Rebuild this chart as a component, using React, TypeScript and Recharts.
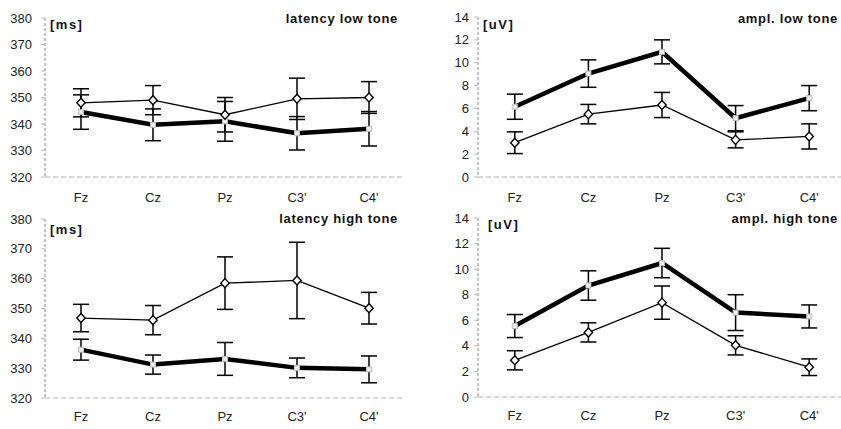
import { ErrorBar, Line, LineChart, XAxis, YAxis } from "recharts";

const sites = ["Fz", "Cz", "Pz", "C3'", "C4'"];

const latencyTicks = [320, 330, 340, 350, 360, 370, 380];
const amplTicks = [0, 2, 4, 6, 8, 10, 12, 14];

// latency low tone
const latLowThin = [348, 349, 343.5, 349.5, 350];
const latLowThinErr = [5.3, 5.5, 6.5, 7.8, 6];
const latLowThick = [344.5, 339.7, 341, 336.5, 338.2];
const latLowThickErr = [6.5, 6, 7.5, 6.3, 6.5];

// ampl. low tone
const ampLowThin = [3.0, 5.5, 6.3, 3.25, 3.55];
const ampLowThinErr = [0.95, 0.85, 1.1, 0.7, 1.1];
const ampLowThick = [6.15, 9.05, 10.95, 5.15, 6.9];
const ampLowThickErr = [1.1, 1.2, 1.05, 1.1, 1.1];

// latency high tone
const latHighThin = [346.8, 346.1, 358.5, 359.4, 350.1];
const latHighThinErr = [4.6, 4.9, 8.8, 12.8, 5.3];
const latHighThick = [336.2, 331.2, 333.1, 330.1, 329.6];
const latHighThickErr = [3.5, 3.2, 5.5, 3.3, 4.5];

// ampl. high tone
const ampHighThin = [2.87, 5.05, 7.38, 4.04, 2.33];
const ampHighThinErr = [0.75, 0.75, 1.3, 0.75, 0.65];
const ampHighThick = [5.55, 8.72, 10.48, 6.6, 6.3];
const ampHighThickErr = [0.9, 1.15, 1.15, 1.4, 0.9];

const font = "'Liberation Sans', Arial, sans-serif";

function rows(thin: number[], thinErr: number[], thick: number[], thickErr: number[]) {
  return sites.map((site, i) => ({
    site,
    thin: thin[i],
    thinErr: thinErr[i],
    thick: thick[i],
    thickErr: thickErr[i],
  }));
}

const renderDiamond = (props: any) => {
  const { cx, cy, index } = props;
  if (cx == null || cy == null) return <g key={`d-${index}`} />;
  return (
    <path
      key={`d-${index}`}
      d={`M${cx},${cy - 4.5}L${cx + 4.2},${cy}L${cx},${cy + 4.5}L${cx - 4.2},${cy}Z`}
      fill="#fff"
      stroke="#000"
      strokeWidth={1.4}
    />
  );
};

const renderSquare = (props: any) => {
  const { cx, cy, index } = props;
  if (cx == null || cy == null) return <g key={`s-${index}`} />;
  return <rect key={`s-${index}`} x={cx - 2.5} y={cy - 2.5} width={5} height={5} fill="#eee" stroke="#bbb" strokeWidth={1} />;
};

type PanelProps = {
  left: number;
  top: number;
  width: number;
  height: number;
  marginTop: number;
  marginRight: number;
  yAxisWidth: number;
  xAxisHeight: number;
  xOffset: number;
  yOffset: number;
  pad: number;
  domain: [number, number];
  ticks: number[];
  data: ReturnType<typeof rows>;
};

function Panel(p: PanelProps) {
  return (
    <div style={{ position: "absolute", left: p.left, top: p.top }}>
      <LineChart
        width={p.width}
        height={p.height}
        data={p.data}
        margin={{ top: p.marginTop, right: p.marginRight, left: 0, bottom: 0 }}
      >
        <XAxis
          dataKey="site"
          height={p.xAxisHeight}
          padding={{ left: p.pad, right: p.pad }}
          tickLine={false}
          tickSize={6}
          tickMargin={p.xOffset - 6}
          axisLine={{ stroke: "#b0b0b0", strokeDasharray: "5 3" }}
          tick={{ fill: "#222", fontSize: 13, fontFamily: font }}
        />
        <YAxis
          width={p.yAxisWidth}
          domain={p.domain}
          ticks={p.ticks}
          interval={0}
          allowDataOverflow
          tickSize={4}
          tickMargin={p.yOffset - 4}
          tickLine={{ stroke: "#bbb" }}
          axisLine={{ stroke: "#888", strokeDasharray: "3 2" }}
          tick={{ fill: "#222", fontSize: 13, fontFamily: font }}
        />
        <Line
          dataKey="thick"
          stroke="#000"
          strokeWidth={4.5}
          dot={renderSquare}
          activeDot={false}
          isAnimationActive={false}
        >
          <ErrorBar dataKey="thickErr" width={8} strokeWidth={1.5} stroke="#000" isAnimationActive={false} />
        </Line>
        <Line
          dataKey="thin"
          stroke="#000"
          strokeWidth={1.3}
          dot={renderDiamond}
          activeDot={false}
          isAnimationActive={false}
        >
          <ErrorBar dataKey="thinErr" width={8} strokeWidth={1.5} stroke="#000" isAnimationActive={false} />
        </Line>
      </LineChart>
    </div>
  );
}

function Text({ x, y, right, children, spacing = 0.7 }: { x?: number; y: number; right?: number; children: string; spacing?: number }) {
  return (
    <div
      style={{
        position: "absolute",
        left: x,
        right,
        top: y,
        fontFamily: font,
        fontWeight: "bold",
        fontSize: 13,
        lineHeight: "13px",
        letterSpacing: spacing,
        color: "#111",
        whiteSpace: "nowrap",
      }}
    >
      {children}
    </div>
  );
}

export default function App() {
  return (
    <div
      style={{
        position: "absolute",
        left: 0,
        top: 0,
        width: 841,
        height: 429,
        overflow: "hidden",
        background: "#fff",
      }}
    >
      <Panel
        left={0}
        top={0}
        width={410}
        height={210}
        marginTop={18}
        marginRight={5}
        yAxisWidth={45}
        xAxisHeight={33}
        xOffset={16}
        yOffset={13}
        pad={36}
        domain={[320, 380]}
        ticks={latencyTicks}
        data={rows(latLowThin, latLowThinErr, latLowThick, latLowThickErr)}
      />
      <Panel
        left={420}
        top={0}
        width={428}
        height={210}
        marginTop={17}
        marginRight={2}
        yAxisWidth={58}
        xAxisHeight={33}
        xOffset={16}
        yOffset={9}
        pad={36.8}
        domain={[0, 14]}
        ticks={amplTicks}
        data={rows(ampLowThin, ampLowThinErr, ampLowThick, ampLowThickErr)}
      />
      <Panel
        left={0}
        top={200}
        width={410}
        height={229}
        marginTop={19}
        marginRight={5}
        yAxisWidth={45}
        xAxisHeight={31}
        xOffset={14}
        yOffset={13}
        pad={36}
        domain={[320, 380]}
        ticks={latencyTicks}
        data={rows(latHighThin, latHighThinErr, latHighThick, latHighThickErr)}
      />
      <Panel
        left={420}
        top={200}
        width={428}
        height={229}
        marginTop={18}
        marginRight={2}
        yAxisWidth={58}
        xAxisHeight={32}
        xOffset={14}
        yOffset={9}
        pad={36.8}
        domain={[0, 14]}
        ticks={amplTicks}
        data={rows(ampHighThin, ampHighThinErr, ampHighThick, ampHighThickErr)}
      />

      <Text right={443} y={12}>latency low tone</Text>
      <Text x={50} y={18} spacing={1.5}>[ms]</Text>
      <Text right={3} y={12}>ampl. low tone</Text>
      <Text x={483} y={18} spacing={1.5}>[uV]</Text>
      <Text right={443} y={212}>latency high tone</Text>
      <Text x={50} y={223} spacing={1.5}>[ms]</Text>
      <Text right={3} y={212}>ampl. high tone</Text>
      <Text x={488} y={218} spacing={1.5}>[uV]</Text>
    </div>
  );
}
